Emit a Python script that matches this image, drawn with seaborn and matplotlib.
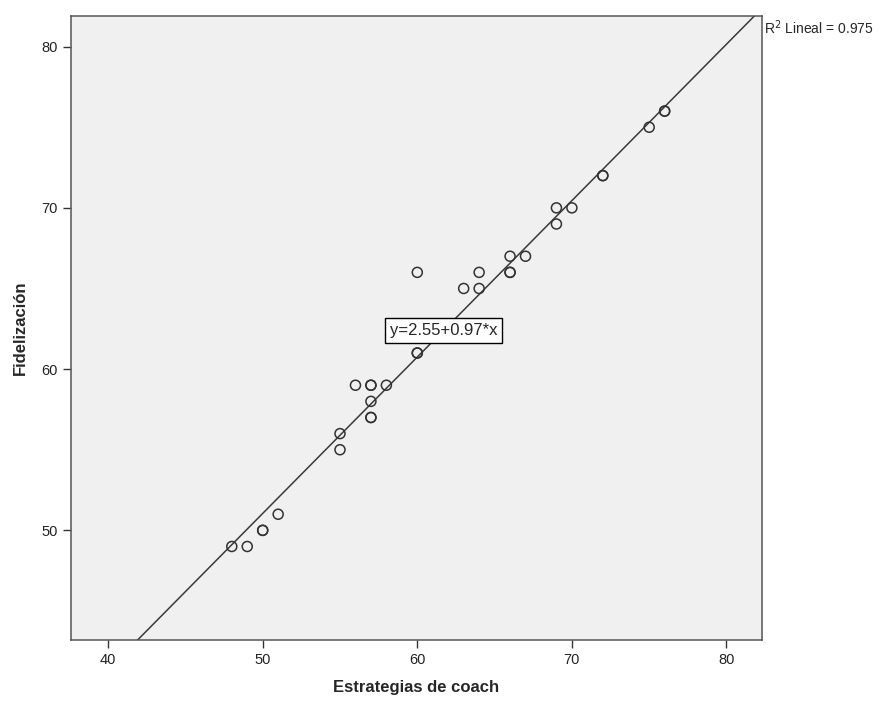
import pandas as pd
import matplotlib.pyplot as plt
import numpy as np
import seaborn as sns

# Datos (puntos repetidos aparecen más gruesos)
estrategias = [48, 49, 50, 50, 51, 55, 55, 56, 57, 57, 57, 57, 57, 58, 60, 60, 60,
               63, 64, 64, 66, 66, 66, 67, 69, 69, 70, 72, 72, 75, 76, 76]
fidelizacion = [49, 49, 50, 50, 51, 56, 55, 59, 59, 59, 58, 57, 57, 59, 66, 61, 61,
                65, 66, 65, 67, 66, 66, 67, 70, 69, 70, 72, 72, 75, 76, 76]
intercepto = 2.55
pendiente = 0.97
r2 = 0.975

dados = pd.DataFrame({'Estrategias de coach': estrategias, 'Fidelización': fidelizacion})

sns.set_style('ticks')
plt.rcParams['font.family'] = ['Liberation Sans', 'DejaVu Sans']

fig = plt.figure(figsize=(8.82, 7.04), dpi=100)
ax = fig.add_axes([0.0805, 0.0909, 0.7835, 0.8864])
ax.set_facecolor('#f0f0f0')

xmin, xmax = 37.6, 82.3
ymin, ymax = 43.2, 81.9

# Recta de regresión
xs = np.array([xmin, xmax])
ax.plot(xs, intercepto + pendiente * xs, color='#3a3a3a', linewidth=1.1, zorder=2)

sns.scatterplot(data=dados, x='Estrategias de coach', y='Fidelización', ax=ax,
                marker='o', s=52, facecolors='none', edgecolor='#333333',
                linewidth=1.1, zorder=3)

ax.set_xlim(xmin, xmax)
ax.set_ylim(ymin, ymax)
ax.set_xticks([40, 50, 60, 70, 80])
ax.set_yticks([50, 60, 70, 80])
ax.tick_params(direction='out', length=6, width=1, colors='#333333',
               labelsize=10.5, labelcolor='#222222')
for s in ax.spines.values():
    s.set_color('#555555')
    s.set_linewidth(1.1)

ax.set_xlabel('Estrategias de coach', fontsize=12, fontweight='bold', labelpad=9)
ax.set_ylabel('Fidelización', fontsize=12, fontweight='bold', labelpad=10)

ax.text(61.7, 62.4, 'y=2.55+0.97*x', fontsize=12, ha='center', va='center', zorder=4,
        bbox=dict(boxstyle='square,pad=0.3', facecolor='white', edgecolor='black', linewidth=1))

ax.text(1.003, 0.982, 'R$^2$ Lineal = %.3f' % r2, transform=ax.transAxes,
        fontsize=10, ha='left', va='center')

plt.savefig('out.png', dpi=100)
